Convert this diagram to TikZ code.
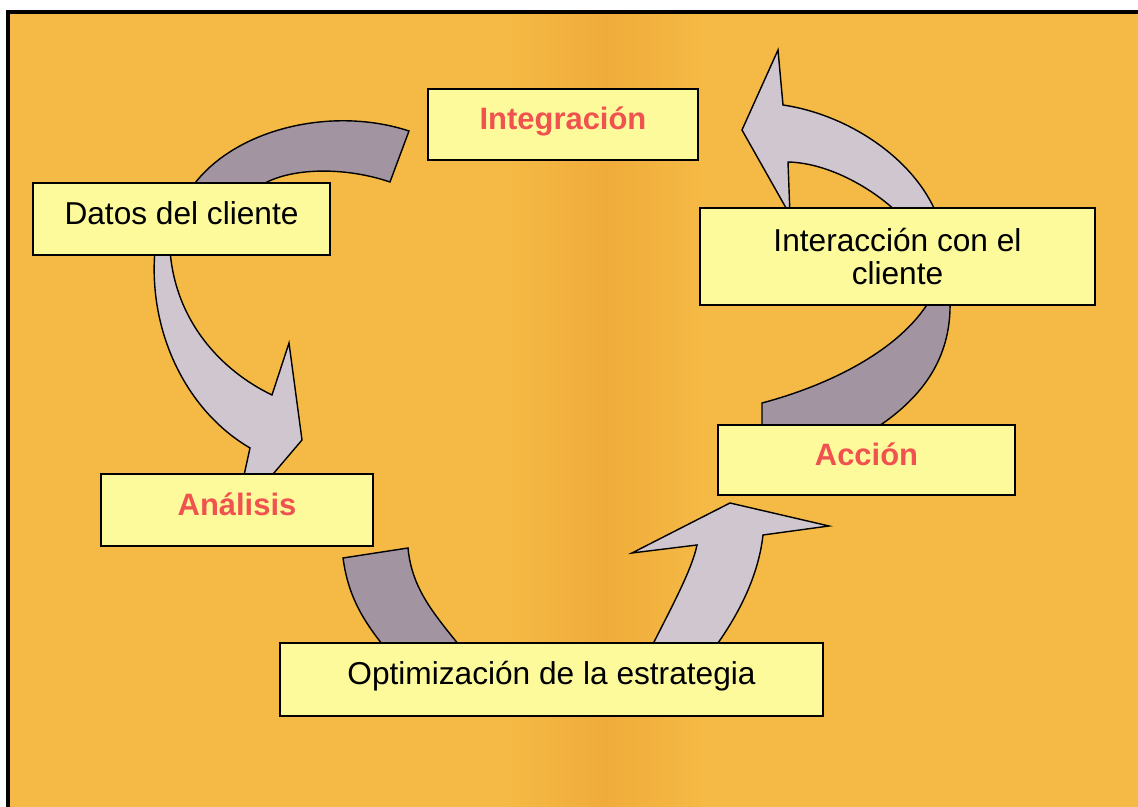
\documentclass[tikz,border=0pt]{standalone}
\usepackage{fontspec}
\setmainfont{Liberation Sans}
\usetikzlibrary{calc}
\definecolor{fondo}{RGB}{245,186,69}
\definecolor{fondoosc}{RGB}{240,172,58}
\definecolor{caja}{RGB}{253,250,155}
\definecolor{rojo}{RGB}{240,82,80}
\definecolor{flechaclara}{RGB}{208,198,208}
\definecolor{flechaosc}{RGB}{162,148,160}
\tikzset{
  paso/.style={draw=black, line width=0.6pt, fill=caja, text height=0.75em, text depth=0.45em,
    font=\fontsize{9pt}{9.6pt}\selectfont},
  titulo/.style={paso, text=rojo, font=\fontsize{8.8pt}{9.6pt}\selectfont\bfseries},
  flecha/.style={draw=black, line width=0.4pt, line join=miter},
}
\begin{document}
\begin{tikzpicture}[x=0.01cm,y=-0.01cm]
	\useasboundingbox (0,0) rectangle (1138,807);
	% fondo
	\fill [white] (0,0) rectangle (1138,807);
	\fill [fondo] (8,12) rectangle (1138,807);
	\shade [left color=fondo, right color=fondoosc] (500,12) rectangle (605,807);
	\shade [left color=fondoosc, right color=fondo] (605,12) rectangle (710,807);
	\draw [line width=1pt] (8,807) -- (8,12) -- (1138,12);
	% flechas
	\draw [flecha, fill=flechaosc] (190,190) .. controls (230,130) and (330,105) .. (409,131)
		-- (390,182) .. controls (340,165) and (280,168) .. (255,190) -- cycle;
	\draw [flecha, fill=flechaclara] (155,250) .. controls (148,330) and (185,410) .. (250,448)
		-- (243,480) -- (268,480) -- (302,440) -- (289,343) -- (272,395)
		.. controls (220,370) and (175,320) .. (170,250) -- cycle;
	\draw [flecha, fill=flechaosc] (343,558) .. controls (348,595) and (362,620) .. (387,650)
		-- (463,650) .. controls (435,615) and (412,590) .. (408,548) -- cycle;
	\draw [flecha, fill=flechaclara] (650,650) .. controls (670,610) and (692,570) .. (697,545)
		-- (632,553) -- (730,503) -- (829,526) -- (763,535)
		.. controls (758,580) and (735,620) .. (713,650) -- cycle;
	\draw [flecha, fill=flechaosc] (762,430) -- (762,403) .. controls (830,385) and (900,350) .. (930,300)
		-- (950,300) .. controls (952,360) and (920,400) .. (873,430) -- cycle;
	\draw [flecha, fill=flechaclara] (900,215) .. controls (875,190) and (830,163) .. (788,162)
		-- (790,215) -- (742,130) -- (778,50) -- (783,105)
		.. controls (850,115) and (915,160) .. (937,215) -- cycle;
	% cajas
	\node [titulo, minimum width=2.70cm, minimum height=0.71cm] (integ) at (563,124.5) {Integración};
	\node [paso, minimum width=2.97cm, minimum height=0.72cm] (datos) at (181.5,219) {Datos del cliente};
	\node [paso, minimum width=3.95cm, minimum height=0.97cm, text height=, text depth=, align=center] (inter) at (897.5,256.5) {Interacción con el\\ cliente};
	\node [titulo, minimum width=2.97cm, minimum height=0.70cm] (accion) at (866.5,460) {Acción};
	\node [titulo, minimum width=2.72cm, minimum height=0.72cm] (analisis) at (237,510) {Análisis};
	\node [paso, minimum width=5.43cm, minimum height=0.73cm] (optim) at (551.5,679.5) {Optimización de la estrategia};
\end{tikzpicture}
\end{document}
